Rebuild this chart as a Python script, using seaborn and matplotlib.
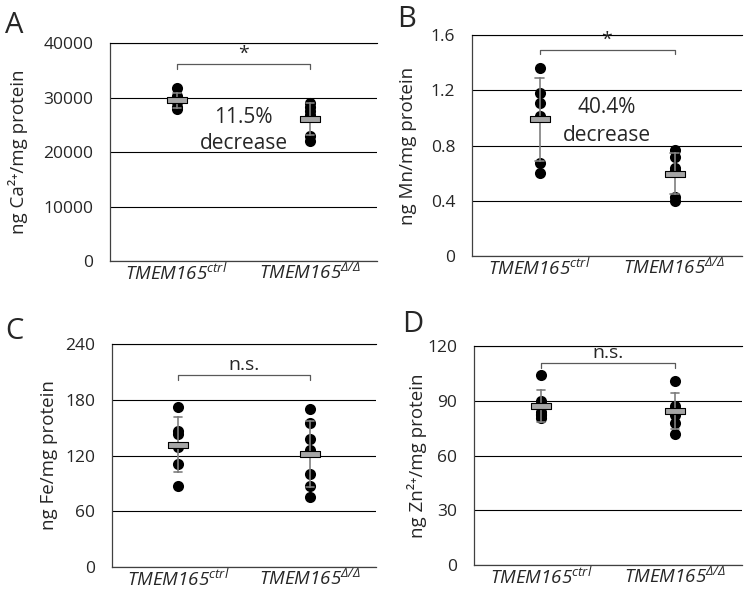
import seaborn as sns
import matplotlib.pyplot as plt
import pandas as pd
import numpy as np
from matplotlib.path import Path

groups = ["ctrl", "ko"]
group_labels = [r"$TMEM165^{ctrl}$", r"$TMEM165^{Δ/Δ}$"]

ca_ctrl = [31700, 30200, 29800, 29200, 28300, 27900]
ca_ko = [28900, 28200, 27500, 26800, 23000, 22000]
mn_ctrl = [1.36, 1.18, 1.11, 1.01, 0.67, 0.60]
mn_ko = [0.77, 0.72, 0.64, 0.62, 0.43, 0.40]
fe_ctrl = [172, 146, 143, 129, 111, 87]
fe_ko = [170, 155, 138, 126, 100, 87, 75]
zn_ctrl = [104, 90, 84, 83, 82, 80.5]
zn_ko = [101, 87, 85, 82, 78, 72]

sns.set_style("white")
plt.rcParams["font.family"] = ["Open Sans", "DejaVu Sans"]
# mathtext only used for the italic gene labels
plt.rcParams["mathtext.fontset"] = "custom"
plt.rcParams["mathtext.rm"] = "Open Sans:italic"
plt.rcParams["mathtext.it"] = "Open Sans:italic"

# rectangle marker for the mean
rect = Path([(-4, -1), (4, -1), (4, 1), (-4, 1), (-4, -1)],
            [Path.MOVETO, Path.LINETO, Path.LINETO, Path.LINETO, Path.CLOSEPOLY])

panels = [
    dict(letter="A", ylabel="ng Ca²⁺/mg protein", ctrl=ca_ctrl, ko=ca_ko,
         ymax=40000, step=10000, rect=[110, 43, 267, 218], lab_x=-0.307,
         sig="*", br=(35200, 36150), note="11.5%\ndecrease", note_y=(26240, 21650),
         let_xy=(5, 33)),
    dict(letter="B", ylabel="ng Mn/mg protein", ctrl=mn_ctrl, ko=mn_ko,
         ymax=1.6, step=0.4, rect=[472, 35, 270, 221], lab_x=-0.204,
         sig="*", br=(1.46, 1.492), note="40.4%\ndecrease", note_y=(1.072, 0.876),
         let_xy=(397, 27)),
    dict(letter="C", ylabel="ng Fe/mg protein", ctrl=fe_ctrl, ko=fe_ko,
         ymax=240, step=60, rect=[112, 344, 264, 223], lab_x=-0.205,
         sig="n.s.", br=(201, 206.6), note=None, note_y=None,
         let_xy=(5, 339)),
    dict(letter="D", ylabel="ng Zn²⁺/mg protein", ctrl=zn_ctrl, ko=zn_ko,
         ymax=120, step=30, rect=[474, 346, 268, 219], lab_x=-0.175,
         sig="n.s.", br=(108.1, 110.9), note=None, note_y=None,
         let_xy=(402, 332)),
]

W, H = 745, 593
fig = plt.figure(figsize=(W / 100, H / 100), dpi=100)

for p in panels:
    x0, y0, w, h = p["rect"]
    ax = fig.add_axes([x0 / W, 1 - (y0 + h) / H, w / W, h / H])
    df = pd.DataFrame({
        "group": ["ctrl"] * len(p["ctrl"]) + ["ko"] * len(p["ko"]),
        "value": p["ctrl"] + p["ko"],
    })

    sns.stripplot(data=df, x="group", y="value", order=groups, jitter=False,
                  color="black", size=8, ax=ax, zorder=2)
    sns.pointplot(data=df, x="group", y="value", order=groups, errorbar="sd",
                  linestyle="none", marker=rect, markersize=15,
                  markerfacecolor="#a6a6a6", markeredgecolor="black",
                  markeredgewidth=0.8, color="#7f7f7f", capsize=0.06,
                  err_kws={"color": "#7f7f7f", "linewidth": 1.2, "zorder": 3},
                  ax=ax, zorder=5)

    ax.set_xlim(-0.5, 1.5)
    ax.set_ylim(0, p["ymax"])
    ax.set_yticks(np.arange(0, p["ymax"] + p["step"] / 2, p["step"]))
    if p["step"] < 1:
        ax.set_yticklabels([f"{v:g}" for v in ax.get_yticks()])
    else:
        ax.set_yticklabels([f"{int(v)}" for v in ax.get_yticks()])
    ax.set_xticks([0, 1])
    ax.set_xticklabels(group_labels, fontsize=13.5)
    ax.tick_params(axis="y", length=0, pad=12, labelsize=12.5)
    ax.tick_params(axis="x", length=0, pad=1.5)
    ax.grid(axis="y", color="black", linewidth=0.8)
    ax.set_axisbelow(True)
    ax.set_xlabel("")
    ax.set_ylabel(p["ylabel"], fontsize=13.5)
    ax.yaxis.set_label_coords(p["lab_x"], 0.5)

    for side in ["left", "bottom"]:
        ax.spines[side].set_color("#404040")
        ax.spines[side].set_linewidth(0.9)
    ax.spines["top"].set_color("black")
    ax.spines["top"].set_linewidth(0.8)
    ax.spines["right"].set_visible(False)

    lo, hi = p["br"]
    ax.plot([0, 0, 1, 1], [lo, hi, hi, lo], color="#595959", linewidth=0.9)
    ax.text(0.5, hi + p["ymax"] * 0.005, p["sig"], ha="center", va="bottom", fontsize=14)

    if p["note"]:
        l1, l2 = p["note"].split("\n")
        ax.text(0.5, p["note_y"][0], l1, ha="center", va="center", fontsize=15)
        ax.text(0.5, p["note_y"][1], l2, ha="center", va="center", fontsize=15)

    lx, ly = p["let_xy"]
    fig.text(lx / W, 1 - ly / H, p["letter"], fontsize=21, ha="left", va="baseline")

fig.savefig("out.png", dpi=100)
